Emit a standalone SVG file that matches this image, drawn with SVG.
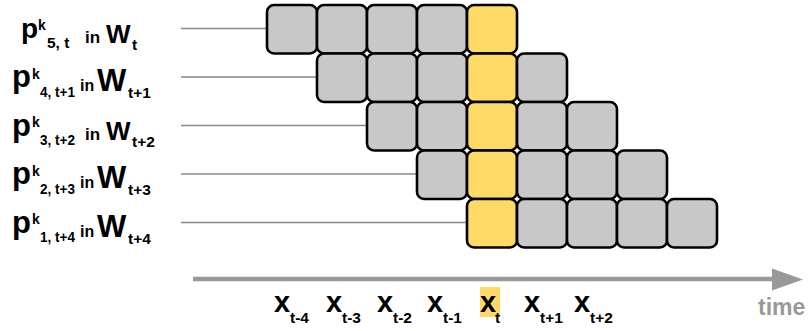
<svg xmlns="http://www.w3.org/2000/svg" width="809" height="331" viewBox="0 0 809 331">
<style>
.b{fill:#c8c8c8;stroke:#000;stroke-width:2.6}
.y{fill:#ffd966;stroke:#000;stroke-width:2.6}
.t{font-family:"Liberation Sans",Arial,sans-serif;font-weight:bold;fill:#000}
.p{font-size:31px}
.p1{font-size:28px}
.x{font-size:29px}
.sup{font-size:14px}
.sub{font-size:15.5px}
.in{font-size:16px}
.in1{font-size:17px}
.W{font-size:31px}
.W1{font-size:26px}
.conn{stroke:#888;stroke-width:1.3;fill:none}
</style>
<rect width="809" height="331" fill="#fff"/>
<g id="connectors">
<line class="conn" x1="181" y1="28.5" x2="267" y2="28.5"/>
<line class="conn" x1="181" y1="77" x2="317" y2="77"/>
<line class="conn" x1="181" y1="125.5" x2="367" y2="125.5"/>
<line class="conn" x1="181" y1="174" x2="417" y2="174"/>
<line class="conn" x1="181" y1="222.5" x2="467" y2="222.5"/>
<g id="time-axis">
<line x1="193" y1="279" x2="774" y2="279" stroke="#999" stroke-width="4.5"/>
<polygon points="772,268.5 803,279.5 772,290.5" fill="#999"/>
</g>
</g>
<g id="row1">
<rect class="b" x="267" y="5" width="50" height="48.5" rx="7"/>
<rect class="b" x="317" y="5" width="50" height="48.5" rx="7"/>
<rect class="b" x="367" y="5" width="50" height="48.5" rx="7"/>
<rect class="b" x="417" y="5" width="50" height="48.5" rx="7"/>
<rect class="y" x="467" y="5" width="50" height="48.5" rx="7"/>
</g>
<g id="row2">
<rect class="b" x="317" y="53.5" width="50" height="48.5" rx="7"/>
<rect class="b" x="367" y="53.5" width="50" height="48.5" rx="7"/>
<rect class="b" x="417" y="53.5" width="50" height="48.5" rx="7"/>
<rect class="y" x="467" y="53.5" width="50" height="48.5" rx="7"/>
<rect class="b" x="517" y="53.5" width="50" height="48.5" rx="7"/>
</g>
<g id="row3">
<rect class="b" x="367" y="102" width="50" height="48.5" rx="7"/>
<rect class="b" x="417" y="102" width="50" height="48.5" rx="7"/>
<rect class="y" x="467" y="102" width="50" height="48.5" rx="7"/>
<rect class="b" x="517" y="102" width="50" height="48.5" rx="7"/>
<rect class="b" x="567" y="102" width="50" height="48.5" rx="7"/>
</g>
<g id="row4">
<rect class="b" x="417" y="150.5" width="50" height="48.5" rx="7"/>
<rect class="y" x="467" y="150.5" width="50" height="48.5" rx="7"/>
<rect class="b" x="517" y="150.5" width="50" height="48.5" rx="7"/>
<rect class="b" x="567" y="150.5" width="50" height="48.5" rx="7"/>
<rect class="b" x="617" y="150.5" width="50" height="48.5" rx="7"/>
</g>
<g id="row5">
<rect class="y" x="467" y="199" width="50" height="48.5" rx="7"/>
<rect class="b" x="517" y="199" width="50" height="48.5" rx="7"/>
<rect class="b" x="567" y="199" width="50" height="48.5" rx="7"/>
<rect class="b" x="617" y="199" width="50" height="48.5" rx="7"/>
<rect class="b" x="667" y="199" width="50" height="48.5" rx="7"/>
</g>
<g id="label1" class="t">
<text class="p1" x="21" y="38">p</text>
<text class="sup" x="38" y="30">k</text>
<text class="sub" x="47" y="48">5, t</text>
<text class="in1" x="85" y="42.5">in</text>
<text class="W1" x="106" y="42.5">W</text>
<text class="sub" x="132" y="50">t</text>
</g>
<g id="label2" class="t">
<text class="p" x="12" y="87">p</text>
<text class="sup" x="32" y="78.5">k</text>
<text class="sub" x="40" y="96.5" textLength="35" lengthAdjust="spacingAndGlyphs">4, t+1</text>
<text class="in" x="80" y="91">in</text>
<text class="W" x="97" y="91">W</text>
<text class="sub" x="128" y="98">t+1</text>
</g>
<g id="label3" class="t">
<text class="p" x="12" y="135.5">p</text>
<text class="sup" x="32" y="127">k</text>
<text class="sub" x="40" y="145" textLength="35" lengthAdjust="spacingAndGlyphs">3, t+2</text>
<text class="in1" x="85" y="139.5">in</text>
<text class="W1" x="106" y="139.5">W</text>
<text class="sub" x="132" y="146.5">t+2</text>
</g>
<g id="label4" class="t">
<text class="p" x="12" y="184">p</text>
<text class="sup" x="32" y="175.5">k</text>
<text class="sub" x="40" y="193.5" textLength="35" lengthAdjust="spacingAndGlyphs">2, t+3</text>
<text class="in" x="80" y="188">in</text>
<text class="W" x="97" y="188">W</text>
<text class="sub" x="128" y="195">t+3</text>
</g>
<g id="label5" class="t">
<text class="p" x="12" y="232.5">p</text>
<text class="sup" x="32" y="224">k</text>
<text class="sub" x="40" y="242" textLength="35" lengthAdjust="spacingAndGlyphs">1, t+4</text>
<text class="in" x="80" y="236.5">in</text>
<text class="W" x="97" y="236.5">W</text>
<text class="sub" x="128" y="243.5">t+4</text>
</g>
<g id="axis-labels" class="t">
<rect x="480" y="287" width="20" height="30" fill="#ffd966"/>
<text class="x" x="274" y="312">x</text>
<text class="sub" x="290" y="322.5">t-4</text>
<text class="x" x="326" y="312">x</text>
<text class="sub" x="342" y="322.5">t-3</text>
<text class="x" x="377" y="312">x</text>
<text class="sub" x="393" y="322.5">t-2</text>
<text class="x" x="427" y="312">x</text>
<text class="sub" x="443" y="322.5">t-1</text>
<text class="x" x="480" y="312">x</text>
<text class="sub" x="495" y="322.5">t</text>
<text class="x" x="524" y="312">x</text>
<text class="sub" x="540" y="322.5">t+1</text>
<text class="x" x="574" y="312">x</text>
<text class="sub" x="590" y="322.5">t+2</text>
<text x="758" y="315" style="font-size:23px;fill:#999">time</text>
</g>
</svg>
